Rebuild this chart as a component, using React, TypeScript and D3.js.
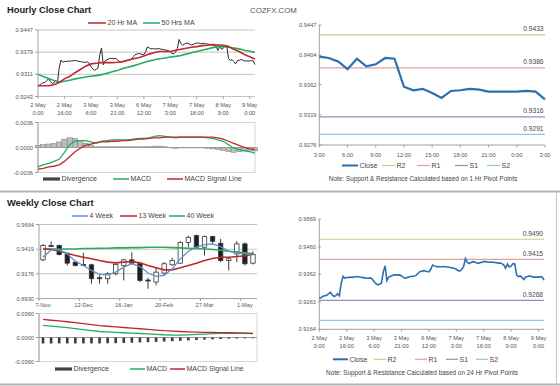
import React from 'react';
import * as d3 from 'd3';

const FONT = 'Liberation Sans, Arial, sans-serif';

// ---- hourly data (2 May 0:00 .. 9 May 3:00) ----
const hourlyClose = [
  0.9277, 0.9278, 0.9283, 0.9285, 0.9286, 0.9292, 0.9297, 0.9289, 0.9283, 0.9285,
  0.9292, 0.9285, 0.9330, 0.9355, 0.9348, 0.9351, 0.9350, 0.9352, 0.9351, 0.9352,
  0.9353, 0.9354, 0.9352, 0.9351, 0.9350, 0.9349, 0.9348, 0.9348, 0.9349, 0.9345,
  0.9335, 0.9328, 0.9324, 0.9326, 0.9330, 0.9370, 0.9392, 0.9340, 0.9352, 0.9355,
  0.9358, 0.9360, 0.9360, 0.9359, 0.9360, 0.9356, 0.9351, 0.9348, 0.9350, 0.9352,
  0.9354, 0.9355, 0.9356, 0.9358, 0.9365, 0.9371, 0.9373, 0.9375, 0.9374, 0.9372,
  0.9371, 0.9380, 0.9395, 0.9392, 0.9389, 0.9390, 0.9389, 0.9389, 0.9390, 0.9389,
  0.9388, 0.9387, 0.9386, 0.9385, 0.9383, 0.9380, 0.9375, 0.9374, 0.9380, 0.9390,
  0.9418, 0.9405, 0.9400, 0.9404, 0.9407, 0.9406, 0.9403, 0.9401, 0.9403, 0.9405,
  0.9407, 0.9407, 0.9406, 0.9405, 0.9406, 0.9405, 0.9404, 0.9403, 0.9402,
  0.9402, 0.9400, 0.9395, 0.9384, 0.9399, 0.9388, 0.9391, 0.9400, 0.9399, 0.9359,
  0.9354, 0.9356, 0.9350, 0.9343, 0.9353, 0.9354, 0.9356, 0.9355, 0.9352, 0.9352,
  0.9352, 0.9352, 0.9353, 0.9352, 0.9341,
];
const hourlyLabels = [
  ['2 May', '0:00'], ['2 May', '16:00'], ['3 May', '6:00'], ['3 May', '21:00'], ['6 May', '12:00'],
  ['7 May', '3:00'], ['7 May', '18:00'], ['8 May', '9:00'], ['9 May', '0:00'],
];
const hourlyLabelIdx = [0, 15, 30, 45, 60, 75, 90, 105, 120];
const hourlyTicks = ['0.9243', '0.9311', '0.9379', '0.9447'];

// moving averages + MACD, read every 3rd hour
const sampleIdx = d3.range(0, 124, 3);
const ma20 = [
  0.9276, 0.9276, 0.9276, 0.9279, 0.9286, 0.9297, 0.9305, 0.9316, 0.9326, 0.9336,
  0.9343, 0.9345, 0.9347, 0.9347, 0.9347, 0.9348, 0.9350, 0.9354, 0.9359, 0.9362,
  0.9367, 0.9373, 0.9378, 0.9381, 0.9381, 0.9381, 0.9385, 0.9388, 0.9391, 0.9394,
  0.9396, 0.9399, 0.9400, 0.9402, 0.9401, 0.9400, 0.9396, 0.9388, 0.9381, 0.9372,
  0.9365, 0.9358,
];
const ma50 = [
  0.9311, 0.9304, 0.9298, 0.9292, 0.9287, 0.9290, 0.9293, 0.9297, 0.9300, 0.9303,
  0.9305, 0.9307, 0.9310, 0.9314, 0.9319, 0.9323, 0.9329, 0.9333, 0.9337, 0.9342,
  0.9347, 0.9352, 0.9356, 0.9359, 0.9361, 0.9364, 0.9366, 0.9369, 0.9373, 0.9377,
  0.9381, 0.9385, 0.9389, 0.9393, 0.9396, 0.9396, 0.9394, 0.9392, 0.9389, 0.9385,
  0.9382, 0.9379,
];
const hMacd = [
  -0.0028, -0.0025, -0.0023, -0.0020, -0.0017, -0.0007, 0.0004, 0.0009, 0.0010, 0.0010,
  0.0008, 0.0006, 0.0009, 0.0010, 0.0011, 0.0011, 0.0011, 0.0011, 0.0012, 0.0013,
  0.0013, 0.0014, 0.0016, 0.0017, 0.0016, 0.0015, 0.0014, 0.0015, 0.0015, 0.0015,
  0.0015, 0.0015, 0.0014, 0.0013, 0.0011, 0.0009, 0.0004, -0.0001, -0.0003, -0.0005,
  -0.0006, -0.0008,
];
const hSignal = [
  -0.0031, -0.0030, -0.0028, -0.0027, -0.0025, -0.0020, -0.0013, -0.0006, -0.0001, 0.0003,
  0.0005, 0.0007, 0.0008, 0.0008, 0.0009, 0.0009, 0.0010, 0.0010, 0.0011, 0.0012,
  0.0012, 0.0013, 0.0014, 0.0014, 0.0015, 0.0015, 0.0015, 0.0015, 0.0015, 0.0015,
  0.0015, 0.0015, 0.0015, 0.0015, 0.0014, 0.0012, 0.0009, 0.0006, 0.0003, 0.0000,
  -0.0002, -0.0003,
];
const hDiv = [
  0.0003, 0.0004, 0.0005, 0.0006, 0.0008, 0.0012, 0.0014, 0.0013, 0.0010, 0.0006,
  0.0003, 0.0001, 0.0001, 0.0001, 0.0001, 0.0001, 0.0001, 0.0001, 0.0001, 0.0001,
  0.0001, 0.0001, 0.0002, 0.0002, 0.0001, 0.0000, -0.0001, 0.0000, 0.0000, 0.0000,
  0.0000, 0.0000, -0.0001, -0.0002, -0.0003, -0.0004, -0.0006, -0.0007, -0.0006, -0.0005,
  -0.0004, -0.0005,
];
const hMacdTicks = ['-0.0036', '0.0000', '0.0036'];

// ---- last 24 hours with 1 hr pivots ----
const dayClose = hourlyClose.slice(99);
const dayHours = [
  '3:00', '4:00', '5:00', '6:00', '7:00', '8:00', '9:00', '10:00', '11:00', '12:00', '13:00', '14:00',
  '15:00', '16:00', '17:00', '18:00', '19:00', '20:00', '21:00', '22:00', '23:00', '0:00', '1:00', '2:00', '3:00',
];
const dayTicks = ['0.9276', '0.9319', '0.9362', '0.9404', '0.9447'];
const pivotNames = ['R2', 'R1', 'S1', 'S2'];
const dayPivots = [0.9433, 0.9386, 0.9316, 0.9291];
const dayPivotText = ['0.9433', '0.9386', '0.9316', '0.9291'];

// ---- weekly data ----
const weekLabels = [
  '7-Nov', '14-Nov', '21-Nov', '28-Nov', '5-Dec', '12-Dec', '19-Dec', '26-Dec', '2-Jan', '9-Jan',
  '16-Jan', '23-Jan', '30-Jan', '6-Feb', '13-Feb', '20-Feb', '27-Feb', '6-Mar', '13-Mar', '20-Mar',
  '27-Mar', '3-Apr', '10-Apr', '17-Apr', '24-Apr', '1-May', '8-May',
];
const weekOpen = [
  0.9314, 0.9455, 0.9455, 0.9366, 0.9291, 0.9268, 0.9265, 0.9137, 0.9127, 0.9176,
  0.9258, 0.9314, 0.9281, 0.9114, 0.9094, 0.9183, 0.9265, 0.9281, 0.9485, 0.9554,
  0.9439, 0.9544, 0.9478, 0.9307, 0.9373, 0.9472, 0.9281,
];
const weekHigh = [
  0.9472, 0.9498, 0.9465, 0.9373, 0.9301, 0.9383, 0.9275, 0.9160, 0.9192, 0.9291,
  0.9324, 0.9389, 0.9291, 0.9137, 0.9242, 0.9291, 0.9334, 0.9498, 0.9554, 0.9563,
  0.9554, 0.9554, 0.9521, 0.9340, 0.9498, 0.9488, 0.9399,
];
const weekLow = [
  0.9301, 0.9439, 0.9357, 0.9258, 0.9248, 0.9255, 0.9077, 0.9077, 0.9077, 0.9160,
  0.9110, 0.9275, 0.9094, 0.9028, 0.9061, 0.9160, 0.9258, 0.9275, 0.9439, 0.9432,
  0.9357, 0.9472, 0.9291, 0.9209, 0.9291, 0.9258, 0.9268,
];
const weekClose = [
  0.9455, 0.9449, 0.9366, 0.9281, 0.9258, 0.9261, 0.9127, 0.9130, 0.9176, 0.9268,
  0.9314, 0.9281, 0.9110, 0.9107, 0.9192, 0.9275, 0.9307, 0.9485, 0.9537, 0.9439,
  0.9544, 0.9498, 0.9307, 0.9324, 0.9472, 0.9275, 0.9366,
];
const ma4 = [
  0.9340, 0.9412, 0.9412, 0.9373, 0.9301, 0.9258, 0.9209, 0.9169, 0.9166, 0.9192,
  0.9242, 0.9275, 0.9248, 0.9183, 0.9150, 0.9160, 0.9225, 0.9324, 0.9399, 0.9439,
  0.9465, 0.9472, 0.9445, 0.9399, 0.9383, 0.9373, 0.9363,
];
const ma13 = [
  0.9422, 0.9416, 0.9399, 0.9380, 0.9357, 0.9340, 0.9324, 0.9307, 0.9291, 0.9284,
  0.9291, 0.9297, 0.9284, 0.9258, 0.9235, 0.9215, 0.9215, 0.9235, 0.9258, 0.9281,
  0.9307, 0.9327, 0.9340, 0.9340, 0.9347, 0.9353, 0.9373,
];
const ma40 = [
  0.9422, 0.9422, 0.9422, 0.9422, 0.9422, 0.9426, 0.9426, 0.9429, 0.9429, 0.9432,
  0.9432, 0.9435, 0.9435, 0.9439, 0.9439, 0.9439, 0.9435, 0.9432, 0.9429, 0.9426,
  0.9422, 0.9416, 0.9409, 0.9399, 0.9393, 0.9383, 0.9373,
];
const weekTicks = ['0.8930', '0.9176', '0.9419', '0.9664'];
const wMacd = [
  0.0182, 0.0170, 0.0160, 0.0147, 0.0133, 0.0119, 0.0104, 0.0090, 0.0083, 0.0077,
  0.0071, 0.0065, 0.0060, 0.0055, 0.0048, 0.0041, 0.0037, 0.0035, 0.0040, 0.0046,
  0.0052, 0.0057, 0.0061, 0.0064, 0.0064, 0.0062, 0.0060,
];
const wSignal = [
  0.0271, 0.0259, 0.0248, 0.0236, 0.0222, 0.0208, 0.0193, 0.0179, 0.0169, 0.0159,
  0.0150, 0.0140, 0.0131, 0.0121, 0.0111, 0.0102, 0.0096, 0.0090, 0.0085, 0.0081,
  0.0078, 0.0076, 0.0074, 0.0071, 0.0068, 0.0065, 0.0062,
];
const wDiv = [
  -0.0090, -0.0090, -0.0089, -0.0089, -0.0089, -0.0089, -0.0089, -0.0089, -0.0087, -0.0085,
  -0.0082, -0.0078, -0.0074, -0.0070, -0.0066, -0.0061, -0.0056, -0.0050, -0.0044, -0.0038,
  -0.0032, -0.0027, -0.0022, -0.0018, -0.0015, -0.0012, -0.0010,
];
const wMacdTicks = ['-0.0360', '0.0000', '0.0360'];

// ---- 24 hr pivot chart (same hourly closes) ----
const weekPivots = [0.9490, 0.9415, 0.9268, 0.9196];
const weekPivotText = ['0.9490', '0.9415', '0.9268', ''];
const brTicks = ['0.9164', '0.9263', '0.9362', '0.9460', '0.9569'];

const pivotColor: Record<string, string> = { R2: '#c8cb8c', R1: '#e2a09c', S1: '#958cba', S2: '#86cbe2' };
const RED = '#c1272d';
const GREEN = '#22ad62';
const BLUE = '#2b6fb3';
const AXIS = '#a0a0a0';
const GRID = '#c4c4c4';
const TXT = '#555';

const TICK_FS = 5.7;
const LEG_FS = 7;

const YLabels = ({ ticks, y, x }: { ticks: string[]; y: (v: number) => number; x: number }) => (
  <g>
    {ticks.map(t => (
      <g key={t}>
        <line x1={x + 2} x2={x + 5} y1={y(+t)} y2={y(+t)} stroke={AXIS} />
        <text x={x} y={y(+t) + 2} textAnchor="end" fontSize={TICK_FS} fill={TXT}>{t}</text>
      </g>
    ))}
  </g>
);

const LegendLine = ({ x, y, w, color, label, sw = 1.5 }: any) => (
  <g>
    <line x1={x} x2={x + w} y1={y} y2={y} stroke={color} strokeWidth={sw} />
    <text x={x + w + 1.5} y={y + 2.4} fontSize={LEG_FS} fill="#444">{label}</text>
  </g>
);

const LegendBar = ({ x, y, w, label }: any) => (
  <g>
    <rect x={x} y={y - 1.6} width={w} height={3.2} fill="#444" />
    <text x={x + w + 1.5} y={y + 2.4} fontSize={LEG_FS} fill="#444">{label}</text>
  </g>
);

const App: React.FC = () => {
  // hourly close panel
  const xA = d3.scaleLinear().domain([0, hourlyClose.length - 1]).range([38, 255]);
  const yA = d3.scaleLinear().domain([0.9243, 0.9447]).range([96.5, 30]);
  const closeA = d3.line<number>().x((_, i) => xA(i)).y(d => yA(d));
  const maLineA = d3.line<number>().x((_, i) => xA(sampleIdx[i])).y(d => yA(d));

  // hourly MACD panel
  const yB = d3.scaleLinear().domain([-0.0036, 0.0036]).range([172.5, 122.5]);
  const macdLineB = d3.line<number>().x((_, i) => xA(sampleIdx[i])).y(d => yB(d));
  const barW = xA(3) - xA(0);

  // 24 hour panel
  const xC = d3.scaleLinear().domain([0, dayClose.length - 1]).range([319.3, 545]);
  const yC = d3.scaleLinear().domain([0.9276, 0.9447]).range([145, 25]);
  const closeC = d3.line<number>().x((_, i) => xC(i)).y(d => yC(d));

  // weekly panel
  const xD = d3.scaleBand<string>().domain(weekLabels).range([39, 257]);
  const cx = (i: number) => (xD(weekLabels[i]) as number) + xD.bandwidth() / 2;
  const yD = d3.scaleLinear().domain([0.8930, 0.9664]).range([298.6, 224.5]);
  const lineD = d3.line<number>().x((_, i) => cx(i)).y(d => yD(d));

  // weekly MACD
  const yE = d3.scaleLinear().domain([-0.036, 0.036]).range([361.5, 313.5]);
  const lineE = d3.line<number>().x((_, i) => cx(i)).y(d => yE(d));

  // bottom right pivot chart
  const xF = d3.scaleLinear().domain([0, hourlyClose.length - 1]).range([319.3, 544]);
  const yF = d3.scaleLinear().domain(brTicks.map(Number)).range(brTicks.map((_, i) => 329.3 - i * 27.5));
  const closeF = d3.line<number>().x((_, i) => xF(i)).y(d => yF(d));

  return (
    <svg width={560} height={386} fontFamily={FONT}
      style={{ position: 'absolute', left: 0, top: 0, background: '#fff' }}>
      {/* ===== hourly close ===== */}
      <text x={7} y={12.5} fontSize={9.3} fontWeight="bold" fill="#222">Hourly Close Chart</text>
      <text x={250} y={12.8} fontSize={7.8} fill="#555">COZFX.COM</text>
      <LegendLine x={88} y={23} w={18} color={RED} label="20 Hr MA" />
      <LegendLine x={143} y={23} w={17} color={GREEN} label="50 Hrs MA" />

      {hourlyTicks.map(t => (
        <line key={t} x1={38} x2={255} y1={yA(+t)} y2={yA(+t)} stroke={GRID} />
      ))}
      <line x1={38} x2={38} y1={30} y2={96.5} stroke={AXIS} />
      <YLabels ticks={hourlyTicks} y={yA} x={33} />
      {hourlyLabelIdx.map((idx, k) => (
        <g key={idx}>
          <line x1={xA(idx)} x2={xA(idx)} y1={96.5} y2={99} stroke={AXIS} />
          <text x={xA(idx)} y={107} textAnchor="middle" fontSize={TICK_FS} fill={TXT}>{hourlyLabels[k][0]}</text>
          <text x={xA(idx)} y={114.5} textAnchor="middle" fontSize={TICK_FS} fill={TXT}>{hourlyLabels[k][1]}</text>
        </g>
      ))}
      <path d={closeA(hourlyClose) || ''} fill="none" stroke="#2a2a2a" strokeWidth={1} />
      <path d={maLineA(ma50) || ''} fill="none" stroke={GREEN} strokeWidth={1.6} />
      <path d={maLineA(ma20) || ''} fill="none" stroke={RED} strokeWidth={1.6} />

      {/* ===== hourly MACD ===== */}
      <rect x={38} y={122.5} width={217} height={50} fill="none" stroke="#d6d6d6" />
      <line x1={38} x2={38} y1={122.5} y2={172.5} stroke={AXIS} />
      <YLabels ticks={hMacdTicks} y={yB} x={33} />
      {hDiv.map((d, i) => (
        <rect key={i} x={xA(sampleIdx[i]) - barW / 2} width={barW}
          y={Math.min(yB(d), yB(0))} height={Math.max(0.4, Math.abs(yB(d) - yB(0)))}
          fill="#bdbdbd" stroke="#7a7a7a" strokeWidth={0.5} />
      ))}
      <line x1={38} x2={255} y1={yB(0)} y2={yB(0)} stroke="#9a9a9a" />
      <path d={macdLineB(hMacd) || ''} fill="none" stroke={GREEN} strokeWidth={1.3} />
      <path d={macdLineB(hSignal) || ''} fill="none" stroke={RED} strokeWidth={1.3} />
      <LegendBar x={43} y={179} w={17} label="Divergence" />
      <LegendLine x={113} y={179} w={16} color={GREEN} label="MACD" />
      <LegendLine x={167} y={179} w={16} color={RED} label="MACD Signal Line" />

      {/* ===== 24 hour close with 1 hr pivots ===== */}
      <line x1={319.3} x2={319.3} y1={25} y2={145} stroke={AXIS} />
      <line x1={319.3} x2={545} y1={145} y2={145} stroke={AXIS} />
      <YLabels ticks={dayTicks} y={yC} x={316.5} />
      {dayHours.map((h, i) => i % 3 === 0 && (
        <g key={i}>
          <line x1={xC(i)} x2={xC(i)} y1={145} y2={147.5} stroke={AXIS} />
          <text x={xC(i)} y={157} textAnchor="middle" fontSize={TICK_FS} fill={TXT}>{h}</text>
        </g>
      ))}
      {dayPivots.map((v, i) => (
        <g key={i}>
          <line x1={319.3} x2={545} y1={yC(v)} y2={yC(v)} stroke={pivotColor[pivotNames[i]]} strokeWidth={1.2} />
          <text x={543.5} y={yC(v) - 3.5} textAnchor="end" fontSize={6.6} fill="#444">{dayPivotText[i]}</text>
        </g>
      ))}
      <path d={closeC(dayClose) || ''} fill="none" stroke={BLUE} strokeWidth={2.2} />
      <LegendLine x={342} y={165.5} w={16} color={BLUE} label="Close" sw={2} />
      {pivotNames.map((n, i) => (
        <LegendLine key={n} x={[382, 417, 455, 487][i]} y={165.5} w={13} color={pivotColor[n]} label={n} sw={1.2} />
      ))}
      <text x={423} y={181} textAnchor="middle" fontSize={6.4} fill="#444">
        Note: Support &amp; Resistance Calculated based on 1 Hr Pivot Points
      </text>

      {/* separators */}
      <line x1={0} x2={560} y1={191.5} y2={191.5} stroke="#b3b3b3" strokeWidth={2} />
      <line x1={0} x2={560} y1={384.5} y2={384.5} stroke="#b3b3b3" strokeWidth={2} />
      <line x1={556.5} x2={556.5} y1={191.5} y2={384.5} stroke="#c4c4c4" />

      {/* ===== weekly close ===== */}
      <text x={7} y={205.8} fontSize={9.3} fontWeight="bold" fill="#222">Weekly Close Chart</text>
      <LegendLine x={72} y={216} w={16} color="#5b8fcb" label="4 Week" />
      <LegendLine x={120} y={216} w={17} color={RED} label="13 Week" />
      <LegendLine x={169} y={216} w={16} color={GREEN} label="40 Week" />
      {weekTicks.slice(1).map(t => (
        <line key={t} x1={39} x2={257} y1={yD(+t)} y2={yD(+t)} stroke={GRID} />
      ))}
      <line x1={39} x2={39} y1={224.5} y2={298.6} stroke={AXIS} />
      <line x1={39} x2={257} y1={298.6} y2={298.6} stroke={AXIS} />
      <YLabels ticks={weekTicks} y={yD} x={34} />
      {weekLabels.map((w, i) => i % 5 === 0 && (
        <g key={w}>
          <line x1={xD(w) as number} x2={xD(w) as number} y1={298.6} y2={301} stroke={AXIS} />
          <text x={cx(i)} y={307} textAnchor="middle" fontSize={TICK_FS} fill={TXT}>{w}</text>
        </g>
      ))}
      {weekLabels.map((w, i) => {
        const up = weekClose[i] >= weekOpen[i];
        const top = yD(Math.max(weekOpen[i], weekClose[i]));
        const bot = yD(Math.min(weekOpen[i], weekClose[i]));
        return (
          <g key={w}>
            <line x1={cx(i)} x2={cx(i)} y1={yD(weekHigh[i])} y2={yD(weekLow[i])} stroke="#3a3a3a" />
            <rect x={cx(i) - 2.2} width={4.4} y={top} height={Math.max(1, bot - top)}
              fill={up ? '#fff' : '#1e1e1e'} stroke="#3a3a3a" strokeWidth={0.8} />
          </g>
        );
      })}
      <path d={lineD(ma40) || ''} fill="none" stroke={GREEN} strokeWidth={1.6} />
      <path d={lineD(ma13) || ''} fill="none" stroke={RED} strokeWidth={1.6} />
      <path d={lineD(ma4) || ''} fill="none" stroke="#5b8fcb" strokeWidth={1.3} />

      {/* ===== weekly MACD ===== */}
      <rect x={39} y={313.5} width={218} height={48} fill="none" stroke="#d6d6d6" />
      <line x1={39} x2={39} y1={313.5} y2={361.5} stroke={AXIS} />
      <YLabels ticks={wMacdTicks} y={yE} x={34} />
      <line x1={39} x2={257} y1={yE(0)} y2={yE(0)} stroke="#9a9a9a" />
      {wDiv.map((d, i) => (
        <rect key={i} x={cx(i) - 1.3} width={2.6} y={yE(0)} height={yE(d) - yE(0)} fill="#3c3c3c" />
      ))}
      <path d={lineE(wMacd) || ''} fill="none" stroke={GREEN} strokeWidth={1.3} />
      <path d={lineE(wSignal) || ''} fill="none" stroke={RED} strokeWidth={1.3} />
      <LegendBar x={55} y={369} w={17} label="Divergence" />
      <LegendLine x={130} y={369} w={15} color={GREEN} label="MACD" />
      <LegendLine x={170} y={369} w={15} color={RED} label="MACD Signal Line" />

      {/* ===== 24 hr pivot chart ===== */}
      <line x1={319.3} x2={319.3} y1={219.3} y2={329.3} stroke={AXIS} />
      <line x1={319.3} x2={544} y1={329.3} y2={329.3} stroke={AXIS} />
      <YLabels ticks={brTicks} y={yF} x={316} />
      {hourlyLabelIdx.map((idx, k) => (
        <g key={idx}>
          <line x1={xF(idx)} x2={xF(idx)} y1={329.3} y2={331.8} stroke={AXIS} />
          <text x={xF(idx)} y={339.7} textAnchor="middle" fontSize={TICK_FS} fill={TXT}>{hourlyLabels[k][0]}</text>
          <text x={xF(idx)} y={347.5} textAnchor="middle" fontSize={TICK_FS} fill={TXT}>{hourlyLabels[k][1]}</text>
        </g>
      ))}
      {weekPivots.map((v, i) => (
        <g key={i}>
          <line x1={319.3} x2={544} y1={yF(v)} y2={yF(v)} stroke={pivotColor[pivotNames[i]]} strokeWidth={1.2} />
          <text x={543} y={yF(v) - 3.5} textAnchor="end" fontSize={6.6} fill="#444">{weekPivotText[i]}</text>
        </g>
      ))}
      <path d={closeF(hourlyClose) || ''} fill="none" stroke={BLUE} strokeWidth={1.6} />
      <LegendLine x={333} y={359.3} w={15} color={BLUE} label="Close" sw={2} />
      {pivotNames.map((n, i) => (
        <LegendLine key={n} x={[374, 415, 446, 476][i]} y={359.3} w={12} color={pivotColor[n]} label={n} sw={1.2} />
      ))}
      <text x={422} y={374.5} textAnchor="middle" fontSize={6.4} fill="#444">
        Note: Support &amp; Resistance Calculated based on 24 Hr Pivot Points
      </text>
    </svg>
  );
};

export default App;
